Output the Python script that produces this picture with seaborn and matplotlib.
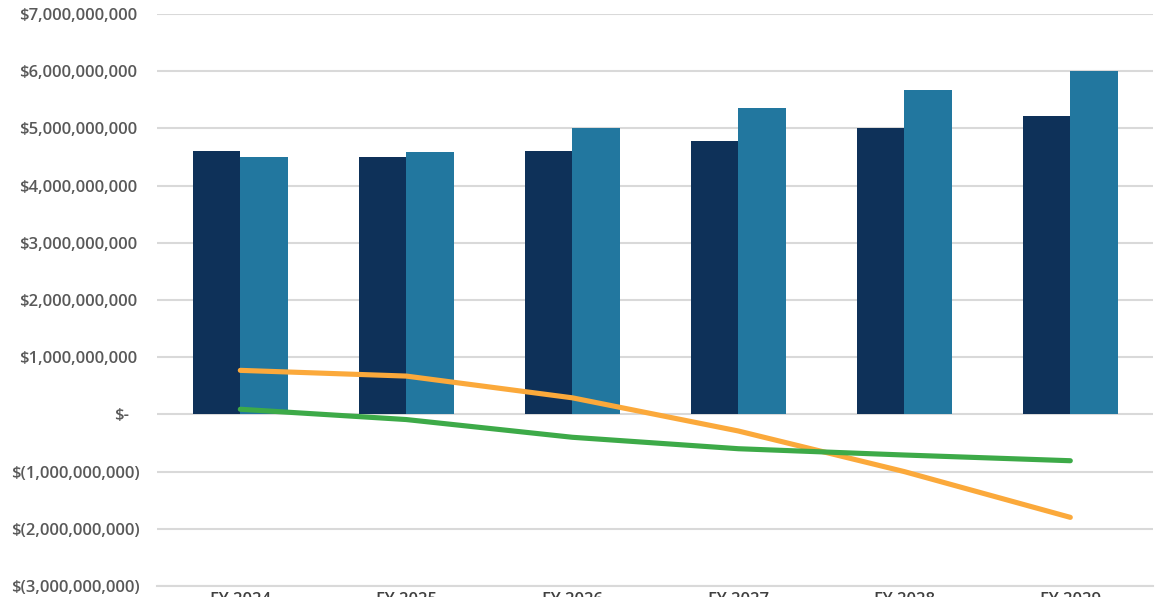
import matplotlib
matplotlib.use("Agg")
import matplotlib.pyplot as plt
import matplotlib.transforms as mtransforms
from matplotlib.ticker import FixedLocator
import seaborn as sns
import pandas as pd

# ---- data ----
years = ["FY 2024", "FY 2025", "FY 2026", "FY 2027", "FY 2028", "FY 2029"]
series_a = [4.60e9, 4.50e9, 4.60e9, 4.78e9, 5.00e9, 5.22e9]   # dark navy bars
series_b = [4.50e9, 4.58e9, 5.00e9, 5.36e9, 5.68e9, 6.01e9]   # teal bars
line_orange = [0.77e9, 0.67e9, 0.29e9, -0.29e9, -1.00e9, -1.80e9]
line_green = [0.09e9, -0.09e9, -0.40e9, -0.60e9, -0.71e9, -0.81e9]
y_ticks = [7e9, 6e9, 5e9, 4e9, 3e9, 2e9, 1e9, 0, -1e9, -2e9, -3e9]
y_labels = ["$7,000,000,000", "$6,000,000,000", "$5,000,000,000", "$4,000,000,000",
            "$3,000,000,000", "$2,000,000,000", "$1,000,000,000", "$-",
            "$(1,000,000,000)", "$(2,000,000,000)", "$(3,000,000,000)"]

bars = pd.DataFrame({
    "year": years * 2,
    "value": series_a + series_b,
    "series": ["Series A"] * len(years) + ["Series B"] * len(years),
})
lines = pd.DataFrame({"year": years, "orange": line_orange, "green": line_green})

sns.set_theme(style="white")
plt.rcParams["font.family"] = ["Open Sans", "DejaVu Sans"]

fig = plt.figure(figsize=(11.55, 5.97), dpi=100)
ax = fig.add_axes([157.3 / 1155, 1 - 586 / 597, 996 / 1155, (586 - 14) / 597])

sns.barplot(data=bars, x="year", y="value", hue="series", order=years,
            palette=["#0E3159", "#22779F"], width=0.57, saturation=1,
            edgecolor="none", linewidth=0, legend=False, ax=ax, zorder=2)
sns.lineplot(data=lines, x="year", y="orange", color="#FBA93B", linewidth=3.7,
             ax=ax, zorder=3, solid_capstyle="round", solid_joinstyle="round")
sns.lineplot(data=lines, x="year", y="green", color="#3DAA48", linewidth=3.7,
             ax=ax, zorder=3, solid_capstyle="round", solid_joinstyle="round")

ax.set_xlim(-0.5, len(years) - 0.5)
ax.set_ylim(-3e9, 7e9)
ax.set_yticks(y_ticks)
ax.set_yticklabels(y_labels)
ax.yaxis.grid(True, color="#D9D9D9", linewidth=1.5, zorder=0)
ax.set_axisbelow(True)
ax.set_xlabel("")
ax.set_ylabel("")

for s in ["top", "right", "left"]:
    ax.spines[s].set_visible(False)
ax.spines["bottom"].set_color("#D9D9D9")
ax.spines["bottom"].set_linewidth(1.5)
ax.spines["bottom"].set_zorder(1)

ax.tick_params(axis="y", length=0, pad=12.4, labelsize=12, labelcolor="#595959")
ax.tick_params(axis="x", which="major", length=0, pad=4.5, labelsize=12, labelcolor="#404040")
ax.xaxis.set_minor_locator(FixedLocator([i - 0.5 for i in range(len(years) + 1)]))
ax.tick_params(axis="x", which="minor", length=16, width=1.5, color="#D9D9D9", direction="out")

for lab in ax.get_yticklabels():
    lab.set_fontweight("semibold")
    t = lab.get_text()
    dx = 0
    if t == "$-":
        dx = -11
    elif not t.startswith("$("):
        dx = -3
    lab.set_transform(lab.get_transform() + mtransforms.ScaledTranslation(dx / 100, 0, fig.dpi_scale_trans))
for lab in ax.get_xticklabels():
    lab.set_fontweight("semibold")

fig.savefig("out.png", dpi=100)
